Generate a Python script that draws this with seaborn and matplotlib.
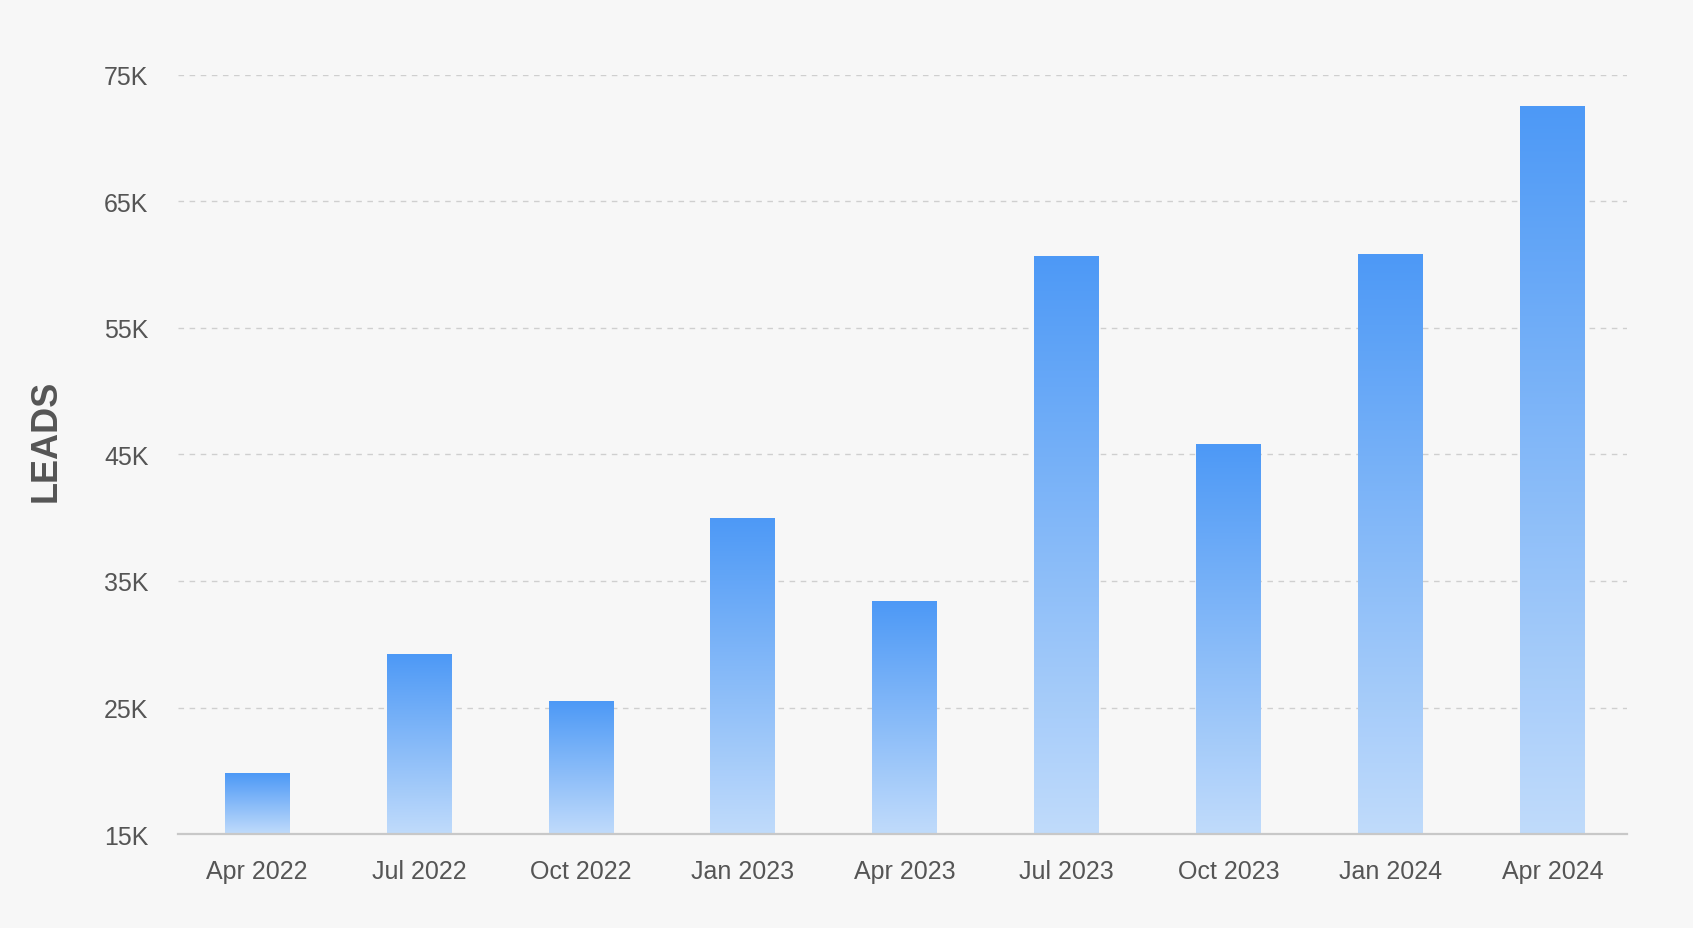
import matplotlib
matplotlib.use("Agg")
import matplotlib.pyplot as plt
import seaborn as sns
import numpy as np
import pandas as pd
from matplotlib.colors import LinearSegmentedColormap
from matplotlib.ticker import FuncFormatter

# datos
trimestres = ["Apr 2022", "Jul 2022", "Oct 2022", "Jan 2023", "Apr 2023",
              "Jul 2023", "Oct 2023", "Jan 2024", "Apr 2024"]
leads = [19800, 29200, 25500, 40000, 33400, 60700, 45800, 60800, 72500]
ticks_y = [15000, 25000, 35000, 45000, 55000, 65000, 75000]

FONDO = "#f7f7f7"
GRIS_TEXTO = "#555555"
AZUL_ARRIBA = "#4d99f6"
AZUL_ABAJO = "#c0dbfb"
Y_MIN, Y_MAX = 15000, 75000

sns.set_theme(style="white")
plt.rcParams["font.family"] = ["Liberation Sans", "DejaVu Sans"]

df = pd.DataFrame({"trimestre": trimestres, "leads": leads})

fig = plt.figure(figsize=(16.93, 9.29), dpi=100, facecolor=FONDO)
ax = fig.add_axes([0.105, 0.1010, 0.856, 0.8177])
ax.set_facecolor(FONDO)

sns.barplot(data=df, x="trimestre", y="leads", color=AZUL_ARRIBA, width=0.4,
            ax=ax, zorder=3)

# degradado vertical dentro de cada barra
cmap = LinearSegmentedColormap.from_list("azul", [AZUL_ABAJO, AZUL_ARRIBA])
grad = np.linspace(0, 1, 256).reshape(-1, 1)
for p in ax.patches:
    x0 = p.get_x()
    x1 = x0 + p.get_width()
    y1 = p.get_height()
    img = ax.imshow(grad, cmap=cmap, aspect="auto", origin="lower",
                    extent=[x0, x1, Y_MIN, y1], zorder=3, interpolation="bicubic")
    img.set_clip_path(p)
    p.set_facecolor("none")
    p.set_edgecolor("none")

ax.set_ylim(Y_MIN, Y_MAX)
ax.set_xlim(-0.49, 8.46)

ax.set_yticks(ticks_y)
ax.yaxis.set_major_formatter(FuncFormatter(lambda v, pos: f"{int(v / 1000)}K"))
ax.grid(axis="y", color="#cfcfcf", linestyle=(0, (4, 4)), linewidth=1.0, zorder=0)
ax.grid(axis="x", visible=False)

for lado in ["top", "right", "left"]:
    ax.spines[lado].set_visible(False)
ax.spines["bottom"].set_color("#c8c8c8")
ax.spines["bottom"].set_linewidth(1.6)
ax.spines["bottom"].set_zorder(4)

ax.tick_params(axis="y", length=0, pad=21, labelsize=18, labelcolor=GRIS_TEXTO)
ax.tick_params(axis="x", length=0, pad=18, labelsize=18, labelcolor=GRIS_TEXTO)
ax.set_xlabel("")
ax.set_ylabel("")

fig.text(46 / 1693, 1 - 441 / 929, "LEADS", rotation=90, ha="center", va="center",
         fontsize=26, fontweight="bold", color=GRIS_TEXTO)

plt.savefig("out.png", dpi=100, facecolor=FONDO)
plt.close()
